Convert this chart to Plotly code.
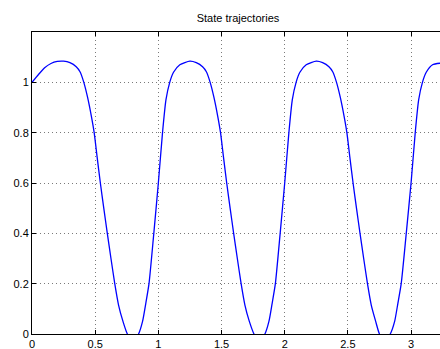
import plotly.graph_objects as go

# State trajectory samples (time, value)
t_vals = [0.0, 0.05, 0.10, 0.15, 0.20, 0.25, 0.30, 0.35, 0.38, 0.41, 0.44, 0.47, 0.492,
          0.515, 0.541, 0.568, 0.596, 0.625, 0.655, 0.685, 0.72, 0.755, 0.80, 0.843,
          0.875, 0.90, 0.926, 0.964, 1.0, 1.033, 1.06, 1.09, 1.12, 1.17, 1.25,
          1.30, 1.35, 1.38, 1.41, 1.44, 1.47, 1.492, 1.515, 1.541, 1.568, 1.596, 1.625,
          1.655, 1.685, 1.72, 1.757, 1.80, 1.843, 1.875, 1.90, 1.926, 1.964, 2.0, 2.033,
          2.06, 2.09, 2.12, 2.17, 2.25,
          2.30, 2.35, 2.38, 2.41, 2.44, 2.47, 2.492, 2.515, 2.541, 2.568, 2.596, 2.625,
          2.655, 2.685, 2.72, 2.75, 2.79, 2.835, 2.87, 2.895, 2.922, 2.962, 3.0, 3.033,
          3.06, 3.09, 3.12, 3.17, 3.23]
y_vals = [1.0, 1.03, 1.058, 1.075, 1.083, 1.084, 1.078, 1.062, 1.042, 1.0, 0.94, 0.865, 0.8,
          0.705, 0.6, 0.5, 0.4, 0.3, 0.2, 0.115, 0.05, 0.0, -0.025, 0.0,
          0.05, 0.12, 0.2, 0.4, 0.6, 0.8, 0.93, 1.0, 1.04, 1.07, 1.084,
          1.078, 1.062, 1.042, 1.0, 0.94, 0.865, 0.8, 0.705, 0.6, 0.5, 0.4, 0.3,
          0.2, 0.115, 0.05, 0.0, -0.025, 0.0, 0.05, 0.12, 0.2, 0.4, 0.6, 0.8,
          0.93, 1.0, 1.04, 1.07, 1.084,
          1.078, 1.062, 1.042, 1.0, 0.94, 0.865, 0.8, 0.705, 0.6, 0.5, 0.4, 0.3,
          0.2, 0.115, 0.05, 0.0, -0.025, 0.0, 0.05, 0.12, 0.2, 0.4, 0.6, 0.8,
          0.93, 1.0, 1.04, 1.07, 1.076]

x_ticks = [0, 0.5, 1, 1.5, 2, 2.5, 3]
x_tick_text = ["0", "0.5", "1", "1.5", "2", "2.5", "3"]
y_ticks = [0, 0.2, 0.4, 0.6, 0.8, 1]
y_tick_text = ["0", "0.2", "0.4", "0.6", "0.8", "1"]

fig = go.Figure()
fig.add_trace(go.Scatter(x=t_vals, y=y_vals, mode="lines",
                         line=dict(color="#0000ff", width=1.3, shape="spline", smoothing=0.6),
                         showlegend=False, hoverinfo="skip"))

font = dict(family="Liberation Sans, Arial, sans-serif", size=11, color="#000000")
grid = dict(showgrid=True, gridcolor="#7a7a7a", gridwidth=1, griddash="1px,3px",
            zeroline=False, showline=True, linecolor="#000000", linewidth=1,
            ticks="inside", ticklen=4, tickcolor="#000000", tickfont=font)

fig.update_layout(
    width=440, height=349,
    margin=dict(l=32, r=0, t=32, b=15, autoexpand=False),
    paper_bgcolor="#ffffff", plot_bgcolor="#ffffff",
    title=dict(text="State trajectories", x=238/440, xanchor="center",
               y=1 - 18.5/349, yanchor="middle", font=font),
    xaxis=dict(range=[0, 3.229], tickvals=x_ticks, ticktext=x_tick_text,
               mirror="ticks", automargin=False, **grid),
    yaxis=dict(range=[0, 1.2], tickvals=y_ticks, ticktext=y_tick_text,
               mirror=False, automargin=False, **grid),
)

fig.write_html("out.html")
